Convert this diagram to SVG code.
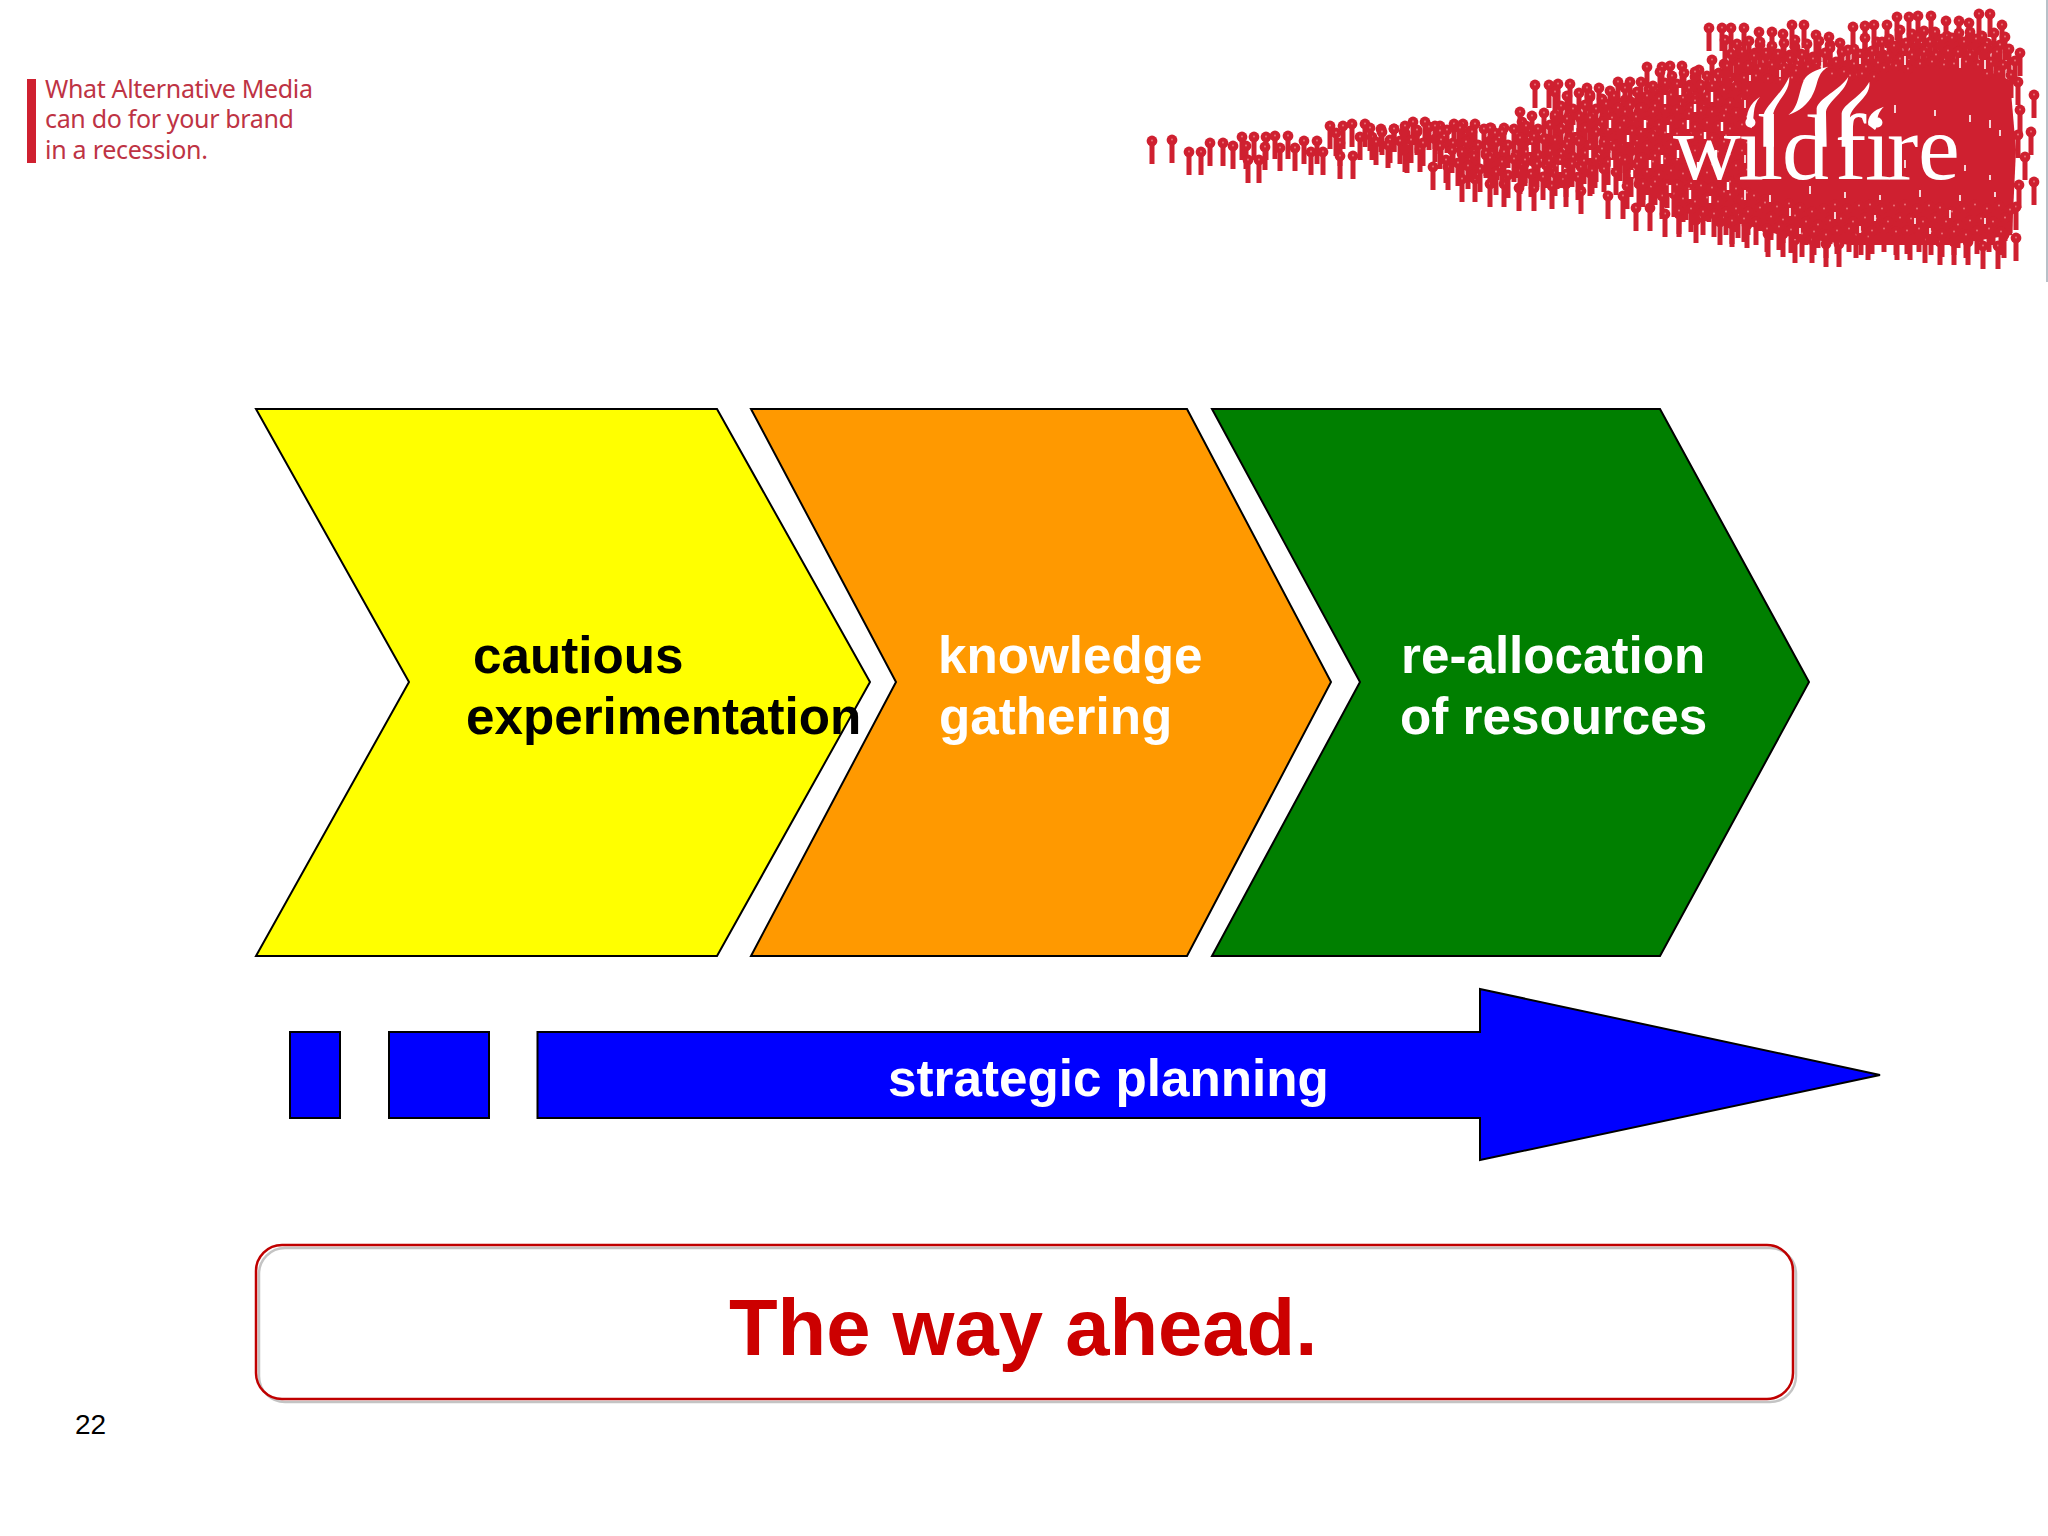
<svg xmlns="http://www.w3.org/2000/svg" width="2048" height="1536" viewBox="0 0 2048 1536">
<style>
.lbl{font-family:"Liberation Sans",Arial,sans-serif;font-weight:700;font-size:51.2px}
.w{fill:#fff}.k{fill:#000}
.shp{stroke:#000;stroke-width:2;stroke-linejoin:miter}
.hd{font-family:"Noto Sans","Open Sans",sans-serif;font-size:25px;fill:#be3344}
.red{fill:#cf2030}
</style>
<defs>
<g id="p"><circle r="5.4" class="red"/><rect x="-2.5" y="0" width="5" height="23" class="red"/><circle r="0.9" cy="-0.5" fill="#ea7a80"/></g>
<g id="s"><use href="#p" x="0" y="0"/><use href="#p" x="12" y="4"/><use href="#p" x="24" y="1"/><use href="#p" x="35" y="5"/><use href="#p" x="6" y="14"/><use href="#p" x="18" y="17"/><use href="#p" x="30" y="13"/></g>
<g id="t"><use href="#s"/><use href="#p" x="2" y="26"/><use href="#p" x="14" y="24"/><use href="#p" x="26" y="27"/></g>
</defs>
<rect width="2048" height="1536" fill="#fff"/>
<rect x="2046" y="0" width="2" height="282" fill="#b8c0c8"/>
<g id="header"><rect x="27" y="79" width="9" height="84" class="red"/>
<text class="hd" x="45" y="98" textLength="268">What Alternative Media</text>
<text class="hd" x="45" y="128" textLength="249">can do for your brand</text>
<text class="hd" x="45" y="159" textLength="163">in a recession.</text></g>
<g id="logo">
<path class="red" d="M1729 90L1760 70 1850 60 1960 60 2010 80 2016 150 2012 235 1950 245 1850 245 1780 235 1729 220Z"/>
<g id="crowd-tail">
<use href="#p" x="1152" y="141"/><use href="#p" x="1172" y="140"/><use href="#p" x="1189" y="152"/><use href="#p" x="1201" y="152"/><use href="#p" x="1210" y="143"/><use href="#p" x="1223" y="143"/><use href="#p" x="1233" y="146"/><use href="#p" x="1242" y="137"/><use href="#p" x="1254" y="137"/><use href="#p" x="1266" y="137"/><use href="#p" x="1275" y="136"/><use href="#p" x="1288" y="136"/><use href="#p" x="1304" y="141"/><use href="#p" x="1317" y="141"/><use href="#p" x="1330" y="126"/><use href="#p" x="1343" y="126"/><use href="#p" x="1352" y="124"/><use href="#p" x="1365" y="124"/><use href="#p" x="1381" y="129"/><use href="#p" x="1394" y="129"/><use href="#p" x="1404" y="132"/><use href="#p" x="1413" y="122"/><use href="#p" x="1425" y="122"/><use href="#p" x="1440" y="126"/><use href="#p" x="1454" y="124"/><use href="#p" x="1463" y="124"/><use href="#p" x="1475" y="124"/><use href="#p" x="1491" y="128"/><use href="#p" x="1504" y="128"/><use href="#p" x="1522" y="122"/>
<use href="#p" x="1246" y="146"/><use href="#p" x="1248" y="160"/><use href="#p" x="1259" y="160"/><use href="#p" x="1265" y="147"/><use href="#p" x="1280" y="148"/><use href="#p" x="1295" y="148"/><use href="#p" x="1311" y="152"/><use href="#p" x="1323" y="152"/><use href="#p" x="1336" y="133"/><use href="#p" x="1340" y="143"/><use href="#p" x="1353" y="156"/><use href="#p" x="1360" y="137"/><use href="#p" x="1372" y="137"/><use href="#p" x="1390" y="140"/><use href="#p" x="1407" y="150"/><use href="#p" x="1417" y="132"/><use href="#p" x="1340" y="156"/>
</g>
<g id="crowd-top">
<use href="#p" x="1709" y="28"/><use href="#p" x="1722" y="28"/><use href="#p" x="1731" y="28"/><use href="#p" x="1744" y="28"/><use href="#p" x="1759" y="32"/><use href="#p" x="1772" y="32"/><use href="#p" x="1783" y="34"/><use href="#p" x="1792" y="25"/><use href="#p" x="1804" y="25"/><use href="#p" x="1816" y="35"/><use href="#p" x="1829" y="37"/><use href="#p" x="1840" y="43"/><use href="#p" x="1853" y="27"/><use href="#p" x="1865" y="26"/><use href="#p" x="1874" y="25"/><use href="#p" x="1887" y="25"/><use href="#p" x="1897" y="17"/><use href="#p" x="1909" y="17"/><use href="#p" x="1918" y="16"/><use href="#p" x="1931" y="16"/><use href="#p" x="1946" y="21"/><use href="#p" x="1959" y="21"/><use href="#p" x="1969" y="23"/><use href="#p" x="1979" y="14"/><use href="#p" x="1990" y="14"/><use href="#p" x="2002" y="25"/>
<use href="#p" x="1647" y="67"/><use href="#p" x="1662" y="67"/><use href="#p" x="1670" y="66"/><use href="#p" x="1682" y="66"/><use href="#p" x="1699" y="70"/>
<use href="#p" x="1535" y="85"/><use href="#p" x="1549" y="85"/><use href="#p" x="1558" y="84"/><use href="#p" x="1570" y="84"/><use href="#p" x="1587" y="88"/><use href="#p" x="1599" y="88"/><use href="#p" x="1610" y="91"/><use href="#p" x="1618" y="82"/><use href="#p" x="1630" y="82"/>
<use href="#p" x="2018" y="82"/><use href="#p" x="2034" y="95"/><use href="#p" x="2031" y="132"/><use href="#p" x="2025" y="157"/><use href="#p" x="2034" y="182"/><use href="#p" x="2016" y="207"/><use href="#p" x="2016" y="238"/><use href="#p" x="2020" y="110"/><use href="#p" x="2018" y="135"/><use href="#p" x="2019" y="185"/>
</g>
<g id="crowd-bottom">
<use href="#p" x="1405" y="149"/><use href="#p" x="1420" y="149"/><use href="#p" x="1433" y="167"/><use href="#p" x="1448" y="167"/><use href="#p" x="1462" y="179"/><use href="#p" x="1475" y="179"/><use href="#p" x="1490" y="184"/><use href="#p" x="1504" y="184"/><use href="#p" x="1519" y="188"/><use href="#p" x="1534" y="188"/><use href="#p" x="1552" y="186"/><use href="#p" x="1566" y="184"/><use href="#p" x="1581" y="191"/><use href="#p" x="1608" y="196"/><use href="#p" x="1623" y="196"/><use href="#p" x="1636" y="208"/><use href="#p" x="1650" y="208"/><use href="#p" x="1665" y="214"/><use href="#p" x="1679" y="214"/><use href="#p" x="1696" y="220"/><use href="#p" x="1720" y="222"/><use href="#p" x="1732" y="224"/><use href="#p" x="1747" y="225"/><use href="#p" x="1768" y="234"/><use href="#p" x="1783" y="234"/><use href="#p" x="1795" y="240"/><use href="#p" x="1812" y="240"/><use href="#p" x="1826" y="244"/><use href="#p" x="1839" y="244"/><use href="#p" x="1856" y="235"/><use href="#p" x="1868" y="237"/><use href="#p" x="1897" y="237"/><use href="#p" x="1910" y="237"/><use href="#p" x="1925" y="240"/><use href="#p" x="1940" y="242"/><use href="#p" x="1954" y="242"/><use href="#p" x="1968" y="242"/><use href="#p" x="1983" y="246"/><use href="#p" x="1998" y="246"/><use href="#p" x="2004" y="235"/>
</g>
<g id="crowd-mass">
<use href="#s" x="1370" y="128"/><use href="#s" x="1405" y="126"/><use href="#s" x="1435" y="126"/><use href="#s" x="1440" y="146"/>
<use href="#t" x="1460" y="128"/><use href="#s" x="1462" y="152"/><use href="#t" x="1490" y="128"/><use href="#s" x="1490" y="158"/>
<use href="#t" x="1520" y="112"/><use href="#t" x="1520" y="138"/><use href="#s" x="1525" y="160"/><use href="#t" x="1555" y="92"/><use href="#t" x="1555" y="115"/><use href="#t" x="1555" y="140"/><use href="#s" x="1560" y="160"/><use href="#t" x="1590" y="95"/><use href="#t" x="1590" y="118"/><use href="#t" x="1590" y="145"/><use href="#t" x="1625" y="88"/><use href="#t" x="1625" y="112"/><use href="#t" x="1625" y="137"/><use href="#t" x="1625" y="160"/><use href="#t" x="1660" y="72"/><use href="#t" x="1660" y="97"/><use href="#t" x="1660" y="122"/><use href="#t" x="1660" y="147"/><use href="#t" x="1660" y="170"/><use href="#t" x="1695" y="72"/><use href="#t" x="1695" y="97"/><use href="#t" x="1695" y="122"/><use href="#t" x="1695" y="147"/><use href="#t" x="1695" y="175"/>
<use href="#t" x="1606" y="104"/><use href="#t" x="1641" y="82"/><use href="#t" x="1641" y="108"/><use href="#t" x="1641" y="132"/><use href="#t" x="1641" y="158"/><use href="#t" x="1677" y="84"/><use href="#t" x="1677" y="110"/><use href="#t" x="1677" y="134"/><use href="#t" x="1677" y="160"/><use href="#t" x="1677" y="185"/><use href="#t" x="1712" y="60"/><use href="#t" x="1712" y="86"/><use href="#t" x="1712" y="112"/><use href="#t" x="1712" y="138"/><use href="#t" x="1712" y="165"/><use href="#t" x="1712" y="188"/>
<use href="#t" x="1725" y="40"/><use href="#t" x="1760" y="42"/><use href="#t" x="1795" y="40"/><use href="#t" x="1830" y="48"/><use href="#t" x="1865" y="38"/><use href="#t" x="1900" y="30"/><use href="#t" x="1935" y="32"/><use href="#t" x="1970" y="32"/>
<use href="#t" x="1742" y="52"/><use href="#t" x="1778" y="54"/><use href="#t" x="1848" y="50"/><use href="#t" x="1882" y="42"/><use href="#t" x="1918" y="38"/><use href="#t" x="1952" y="38"/><use href="#t" x="1985" y="48"/>
<use href="#t" x="1730" y="195"/><use href="#t" x="1765" y="203"/><use href="#t" x="1800" y="208"/><use href="#t" x="1835" y="205"/><use href="#t" x="1870" y="205"/><use href="#t" x="1905" y="205"/><use href="#t" x="1940" y="208"/><use href="#t" x="1975" y="205"/>
</g>
<path id="specks" fill="none" stroke="#fff" stroke-width="1.6" d="M1750 75v6M1780 70v7M1822 62v8M1860 58v6M1905 56v9M1960 58v10M1985 60v9M1745 100v8M1895 105v8M1935 110v6M1970 115v7M1990 120v8M2000 130v6M1905 160v8M1965 165v6M1990 175v5M1745 190v10M1770 195v7M1810 186v8M1845 192v6M1880 195v5M1920 190v7M1960 195v6M1995 192v5M1790 208v8M1835 212v7M1875 215v6M1915 218v6M1950 210v8M1985 218v6M1800 228v6M1860 226v7M1930 228v6M1745 155v8"/>
<path id="gaps" fill="none" stroke="#fff" stroke-width="2.4" d="M1665 95v9M1680 88v7M1695 104v8M1712 92v10M1668 125v8M1688 120v9M1705 132v7M1722 122v9M1662 155v9M1678 150v8M1698 162v7M1716 150v9M1670 185v8M1690 190v9M1710 196v7M1728 182v8M1610 120v8M1628 135v7M1645 120v8M1612 160v8M1632 170v7M1650 160v8M1575 125v7M1590 150v8M1560 165v7M1530 145v7"/>
<text x="1673 1738 1757 1782 1835 1865 1887 1918" y="179" font-family="'Liberation Serif','Times New Roman',serif" font-size="94" fill="#fff">wildfire</text>
<g id="flames" transform="translate(1660 50) scale(.3333)" fill="#fff">
<path d="M300 140C270 160 255 190 262 225L275 235C285 200 275 170 300 140Z"/>
<path d="M310 290L310 200C312 170 360 140 388 80C390 130 350 150 340 190L342 290Z"/>
<path d="M385 195C420 170 415 120 435 85C450 65 480 55 505 50C470 70 475 100 460 130C445 165 415 185 385 195Z"/>
<path d="M470 290L470 175C475 145 540 120 565 80C560 125 505 150 498 185L500 290Z"/>
<path d="M545 290L545 190C550 160 605 140 628 95C635 140 575 165 570 200L570 290Z"/>
<path d="M672 170C640 180 620 200 625 225L645 240C660 225 640 200 672 170Z"/>
</g>
</g>
<g id="chevron-experimentation"><path class="shp" fill="#ff0" d="M256 409H717L870 682 717 956H256L409 682Z"/>
<text class="lbl k" x="473" y="673">cautious</text><text class="lbl k" x="466" y="734">experimentation</text></g>
<g id="chevron-knowledge"><path class="shp" fill="#f90" d="M751 409H1187L1331 682 1187 956H751L896 682Z"/>
<text class="lbl w" x="938" y="673">knowledge</text><text class="lbl w" x="939" y="734">gathering</text></g>
<g id="chevron-resources"><path class="shp" fill="#007f00" d="M1212 409H1660L1809 682 1660 956H1212L1360 682Z"/>
<text class="lbl w" x="1401" y="673">re-allocation</text><text class="lbl w" x="1400" y="734">of resources</text></g>
<g id="planning">
<rect class="shp" fill="#00f" x="290" y="1032" width="50" height="86"/>
<rect class="shp" fill="#00f" x="389" y="1032" width="100" height="86"/>
<path class="shp" fill="#00f" d="M537.500 1032H1480V989L1880 1075 1480 1160V1118H537.500Z"/>
<text class="lbl w" x="888" y="1096">strategic planning</text></g>
<g id="way-ahead">
<rect x="259" y="1248" width="1537" height="154" rx="26" fill="none" stroke="#c4c4c4" stroke-width="2.500"/>
<rect x="256" y="1245" width="1537" height="154" rx="26" fill="none" stroke="#c00000" stroke-width="2.500"/>
<text x="729" y="1355" font-family="'Liberation Sans',Arial,sans-serif" font-weight="700" font-size="79.600" fill="#c00">The way ahead.</text></g>
<text id="page" x="75" y="1434" font-family="'Liberation Sans',Arial,sans-serif" font-size="28" fill="#000">22</text>
</svg>
